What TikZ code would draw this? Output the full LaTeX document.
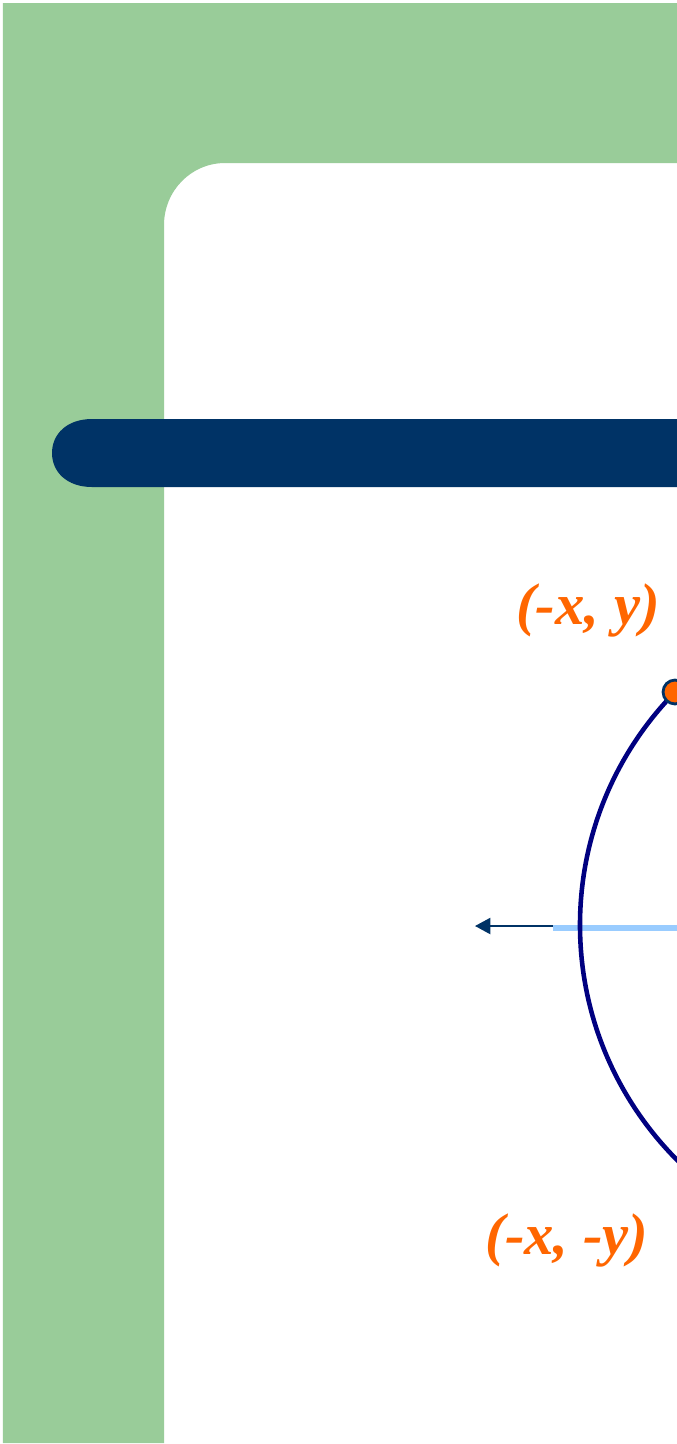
\documentclass[tikz,border=0pt]{standalone}
\usepackage{fontspec}
\setmainfont{Liberation Serif}
\usetikzlibrary{arrows.meta}
\definecolor{slidegreen}{HTML}{99CC99}
\definecolor{slidenavy}{HTML}{003366}
\definecolor{circnavy}{HTML}{000080}
\definecolor{axisblue}{HTML}{99CCFF}
\definecolor{ptorange}{HTML}{FF6600}
\tikzset{
  ptlabel/.style={text=ptorange, font=\fontsize{16.7}{20}\selectfont\bfseries\itshape, inner sep=0pt},
  ptdot/.style={circle, fill=ptorange, draw=slidenavy, line width=0.8pt, minimum size=6.8pt, inner sep=0pt}
}
\begin{document}
\begin{tikzpicture}[x=0.01cm, y=-0.01cm]
    % 画布范围
    \clip (0,0) rectangle (677,1444);
    \fill[white] (0,0) rectangle (677,1444);

    % 绿色边框 (L 形)
    \fill[slidegreen] (3,3) -- (677,3) -- (677,163) -- (225,163)
        .. controls (191,163) and (164,191) .. (164,225)
        -- (164,1443) -- (3,1443) -- cycle;

    % 深蓝色标题条
    \fill[slidenavy] (92,419) -- (677,419) -- (677,487) -- (92,487)
        .. controls (67,487) and (52,472) .. (52,453)
        .. controls (52,434) and (67,419) .. (92,419);

    % 定义圆心与坐标轴端点
    \coordinate (O) at (913, 925);
    \coordinate (axisStart) at (553, 926);
    \coordinate (axisTip) at (475, 926);
    \coordinate (axisEnd) at (680, 928);

    % 绘制 x 轴
    \draw[axisblue, line width=1.7pt] (axisStart |- axisEnd) -- (axisEnd);
    \draw[slidenavy, line width=0.6pt, -{Triangle[length=4.4pt, width=4.6pt]}] (axisStart) -- (axisTip);

    % 绘制单位圆
    \draw[circnavy, line width=1.3pt] (O) circle[radius=333];

    % 标注点
    \node[ptdot] (ptTop) at (675, 692) {};
    \node[ptlabel] (lblTop) at (588, 610) {(-x, y)};
    \node[ptlabel] (lblBot) at (567, 1240) {(-x, -y)};
\end{tikzpicture}
\end{document}
